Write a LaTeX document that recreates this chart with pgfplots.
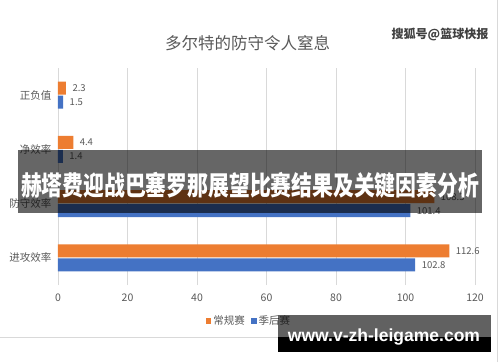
\documentclass[border=0pt]{standalone}
\usepackage{pgfplots}
\pgfplotsset{compat=1.18}
\usepackage{fontspec}
\setmainfont{Noto Sans CJK SC}
\newfontfamily\latinb{Liberation Sans}
\definecolor{orng}{RGB}{237,125,49}
\definecolor{blu}{RGB}{68,114,196}
\definecolor{txtg}{RGB}{89,89,89}
\definecolor{grd}{RGB}{217,217,217}
\begin{document}
\begin{tikzpicture}[x=1pt,y=1pt]
\fill[white] (0,0) rectangle (500,362);
\node[txtg, font=\fontsize{16.5}{18}\selectfont] at (247.5,319) {多尔特的防守令人窒息};
\node[text=black!75, font=\fontsize{12}{14}\selectfont\bfseries] at (440,328) {\resizebox{97pt}{!}{搜狐号@篮球快报}};
\begin{axis}[
 at={(58pt,77pt)}, anchor=south west,
 scale only axis, width=417pt, height=217pt,
 xbar, bar width=13pt,
 xmin=0, xmax=120, ymin=-0.5, ymax=3.5,
 xtick={0,20,...,120},
 ytick={0,1,2,3},
 yticklabels={进攻效率,防守效率,净效率,正负值},
 xmajorgrids, grid style={grd, line width=0.8pt},
 axis line style={draw=none},
 major tick length=0pt,
 /pgf/number format/assume math mode=true,
 tick label style={txtg, font=\fontsize{10.5}{12}\selectfont},
 xticklabel style={yshift=-5pt},
 yticklabel style={xshift=-3pt},
 nodes near coords,
 nodes near coords style={txtg, font=\fontsize{9.5}{11}\selectfont, anchor=west, xshift=3pt},
 legend style={at={(0.458,-0.166)}, anchor=center, draw=none, fill=none, legend columns=2,
   font=\fontsize{10.5}{12}\selectfont, text=txtg, /tikz/every even column/.append style={column sep=4pt}},
 legend image code/.code={\fill[#1] (0pt,-2.8pt) rectangle (5.6pt,2.8pt);},
]
\addplot[fill=orng, draw=none, bar shift=7pt] coordinates {(112.6,0) (108.3,1) (4.4,2) (2.3,3)};
\addplot[fill=blu, draw=none, bar shift=-7pt] coordinates {(102.8,0) (101.4,1) (1.4,2) (1.5,3)};
\legend{常规赛,季后赛}
\end{axis}
\draw[grd, line width=0.6pt] (0,25) -- (278,25);
\draw[grd, line width=0.6pt] (497,0) -- (497,362);
% banner overlay
\fill[black, opacity=0.6] (18,149) rectangle (482,212);
\node[white, inner sep=0pt] at (250,177) {\scalebox{1}[1.28]{\resizebox{458pt}{!}{\bfseries 赫塔费迎战巴塞罗那展望比赛结果及关键因素分析}}};
% bottom-right box
\fill[black, opacity=0.62] (278,25) rectangle (491,47);
\fill[black] (278,10) rectangle (491,25);
\node[white, inner sep=0pt] at (384,25) {\resizebox{192pt}{!}{\latinb\bfseries www.v-zh-leigame.com}};
\pgfresetboundingbox
\useasboundingbox (0,0) rectangle (500,362);
\end{tikzpicture}
\end{document}
